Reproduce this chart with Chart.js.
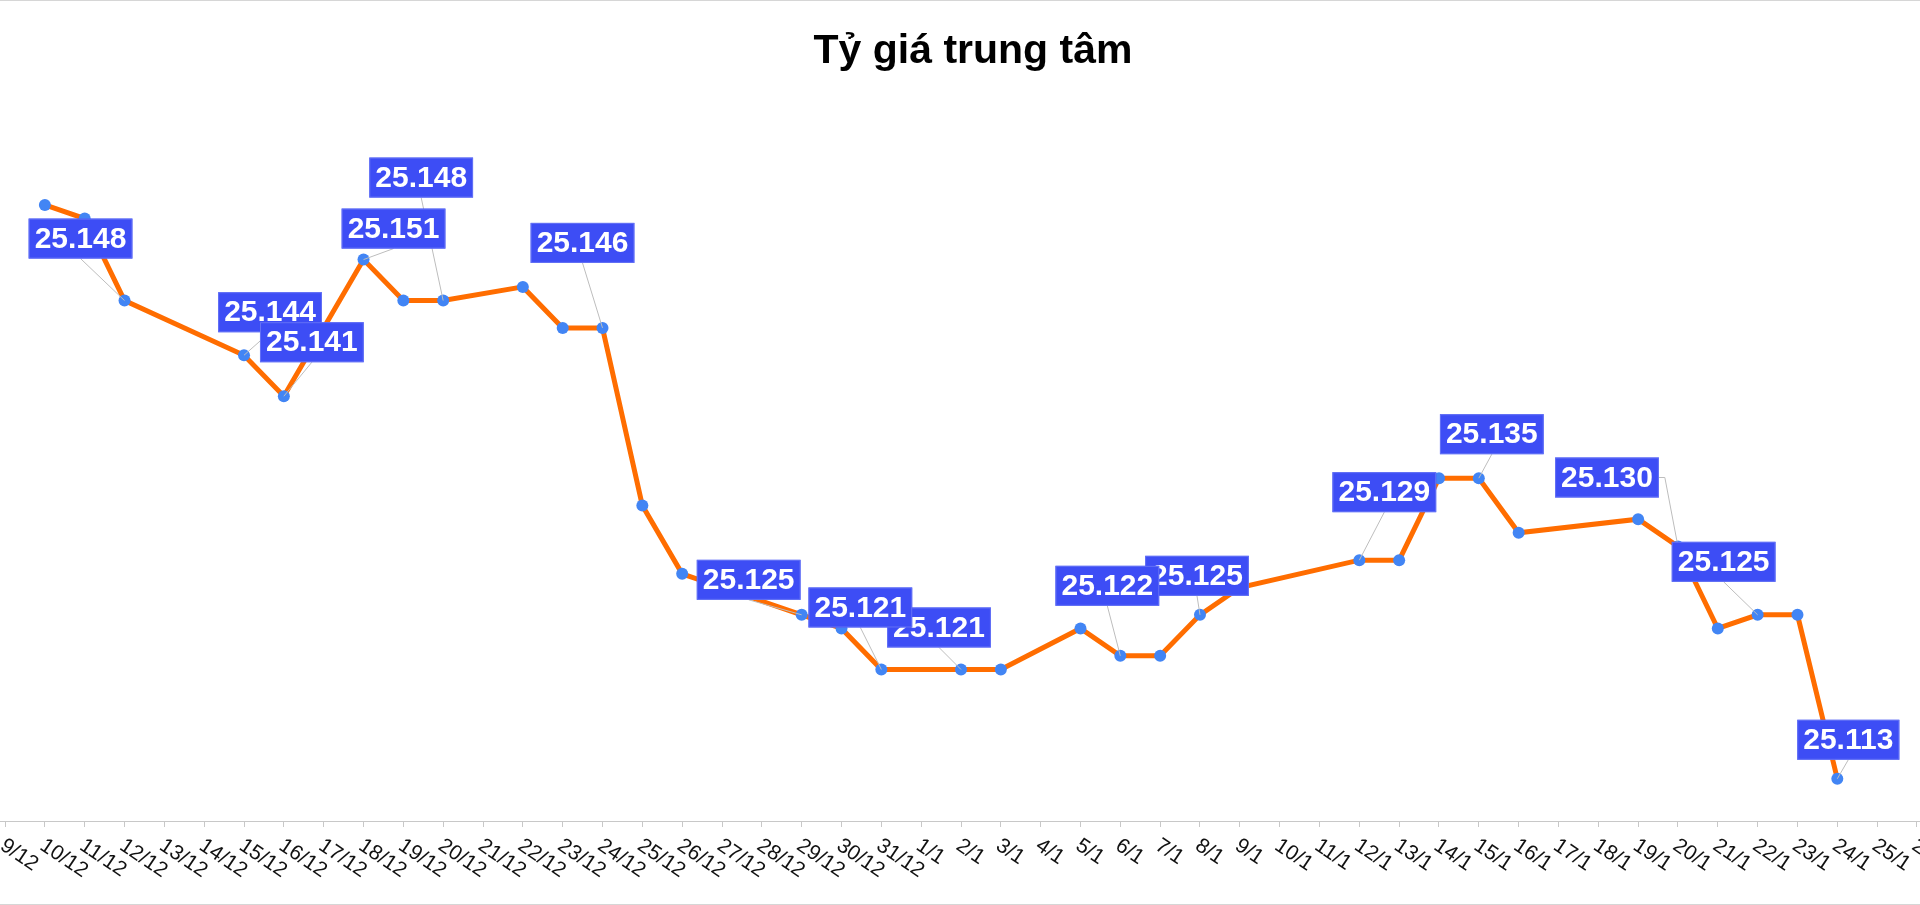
<!DOCTYPE html>
<html>
<head>
<meta charset="utf-8">
<title>Tỷ giá trung tâm</title>
<script src="https://cdn.jsdelivr.net/npm/chart.js@4.4.1/dist/chart.umd.min.js"></script>
<style>
  html, body { margin: 0; padding: 0; background: #fff; overflow: hidden; }
  #frame { position: relative; width: 1920px; height: 905px; overflow: hidden; }
  #chart { position: absolute; left: -60px; top: 0; }
  #frame-border {
    position: absolute; left: 0; top: 0; width: 1920px; height: 905px;
    box-sizing: border-box; border-top: 1px solid #d6d6d6; border-bottom: 1px solid #d6d6d6;
    pointer-events: none;
  }
</style>
</head>
<body>
<div id="frame">
  <canvas id="chart" width="2040" height="905"></canvas>
  <div id="frame-border"></div>
</div>
<script>
// Days on the axis (the first and last ones are cut off by the frame)
const dates = [
  "8/12", "9/12", "10/12", "11/12", "12/12", "13/12", "14/12", "15/12", "16/12", "17/12",
  "18/12", "19/12", "20/12", "21/12", "22/12", "23/12", "24/12", "25/12", "26/12", "27/12",
  "28/12", "29/12", "30/12", "31/12", "1/1", "2/1", "3/1", "4/1", "5/1", "6/1",
  "7/1", "8/1", "9/1", "10/1", "11/1", "12/1", "13/1", "14/1", "15/1", "16/1",
  "17/1", "18/1", "19/1", "20/1", "21/1", "22/1", "23/1", "24/1", "25/1", "26/1", "27/1"
];

// Central rate (thousand VND / USD), null = no fixing that day
const rates = [
  null, null, 25.155, 25.154, 25.148, null, null, 25.144, 25.141, null,
  25.151, 25.148, 25.148, null, 25.149, 25.146, 25.146, 25.133, 25.128, 25.127,
  null, 25.125, 25.124, 25.121, null, 25.121, 25.121, null, 25.124, 25.122,
  25.122, 25.125, 25.127, null, null, 25.129, 25.129, 25.135, 25.135, 25.131,
  null, null, 25.132, 25.130, 25.124, 25.125, 25.125, 25.113, null, null, null
];

// Days that carry a value box, in drawing order
const labelledDays = [
  "12/12", "15/12", "16/12", "18/12", "20/12", "24/12", "29/12",
  "2/1", "31/12", "8/1", "6/1", "12/1", "15/1", "20/1", "22/1", "24/1"
];

// Where each box sits, relative to its point
const boxOffsets = {
  "12/12": [-44, -62], "15/12": [26, -43], "16/12": [28, -54], "18/12": [30, -31],
  "20/12": [-22, -123], "24/12": [-20, -85], "29/12": [-53, -35], "31/12": [-21, -62],
  "2/1": [-22, -42], "6/1": [-13, -70], "8/1": [-3, -39], "12/1": [25, -68],
  "15/1": [13, -44], "20/1": [-71, -69], "22/1": [-34, -53], "24/1": [11, -39]
};

const FONT = '"Liberation Sans", Arial, sans-serif';

// Value boxes with thin leader lines
const valueBoxes = {
  id: 'valueBoxes',
  afterDatasetsDraw(chart) {
    const ctx = chart.ctx;
    const meta = chart.getDatasetMeta(0);
    ctx.save();
    ctx.font = 'bold 30px ' + FONT;

    const boxes = labelledDays.map(day => {
      const i = dates.indexOf(day);
      const pt = meta.data[i];
      const text = rates[i].toFixed(3);
      const w = ctx.measureText(text).width + 12;
      const h = 40;
      const cx = pt.x + boxOffsets[day][0];
      const cy = pt.y + boxOffsets[day][1];
      return { text, px: pt.x, py: pt.y, left: cx - w / 2, top: cy - h / 2, w, h };
    });

    ctx.strokeStyle = '#bdbdbd';
    ctx.lineWidth = 1;
    boxes.forEach(b => {
      ctx.beginPath();
      if (b.px > b.left + b.w + 4) {
        ctx.moveTo(b.left + b.w, b.top + b.h / 2);
        ctx.lineTo(b.left + b.w + 6, b.top + b.h / 2);
      } else if (b.px < b.left - 4) {
        ctx.moveTo(b.left, b.top + b.h / 2);
        ctx.lineTo(b.left - 6, b.top + b.h / 2);
      } else if (b.py > b.top + b.h) {
        ctx.moveTo(b.left + b.w / 2, b.top + b.h);
      } else {
        ctx.moveTo(b.left + b.w / 2, b.top);
      }
      ctx.lineTo(b.px, b.py);
      ctx.stroke();
    });

    ctx.textAlign = 'center';
    ctx.textBaseline = 'middle';
    boxes.forEach(b => {
      ctx.fillStyle = '#3d4df5';
      ctx.fillRect(b.left, b.top, b.w, b.h);
      ctx.strokeStyle = '#6472f6';
      ctx.strokeRect(b.left + 0.5, b.top + 0.5, b.w - 1, b.h - 1);
      ctx.fillStyle = '#ffffff';
      ctx.fillText(b.text, b.left + b.w / 2, b.top + b.h / 2 + 1);
    });
    ctx.restore();
  }
};

// Title and slanted day labels
const decorations = {
  id: 'decorations',
  afterDraw(chart) {
    const ctx = chart.ctx;
    const x = chart.scales.x;
    ctx.save();
    ctx.fillStyle = '#000';
    ctx.font = 'bold 41px ' + FONT;
    ctx.textAlign = 'center';
    ctx.textBaseline = 'alphabetic';
    ctx.fillText('Tỷ giá trung tâm', 1033, 63);

    ctx.font = '21px ' + FONT;
    ctx.fillStyle = '#111';
    ctx.textAlign = 'left';
    ctx.textBaseline = 'top';
    dates.forEach((d, i) => {
      ctx.save();
      ctx.translate(x.getPixelForTick(i) + 3, x.top + 14);
      ctx.rotate(34 * Math.PI / 180);
      ctx.fillText(d, 0, 0);
      ctx.restore();
    });
    ctx.restore();
  }
};

new Chart(document.getElementById('chart'), {
  type: 'line',
  data: {
    labels: dates,
    datasets: [{
      data: rates,
      borderColor: '#ff6d00',
      borderWidth: 5,
      pointBackgroundColor: '#4285f4',
      pointBorderWidth: 0,
      pointRadius: 6,
      spanGaps: true,
      tension: 0
    }]
  },
  options: {
    responsive: false,
    animation: false,
    layout: { padding: { left: 25.2, right: 23.2, top: 100, bottom: 78 } },
    plugins: {
      legend: { display: false },
      tooltip: { enabled: false },
      title: { display: false }
    },
    scales: {
      x: {
        offset: false,
        grid: { drawOnChartArea: false, drawTicks: true, tickLength: 6, color: '#c8c8c8' },
        border: { color: '#c8c8c8', width: 1 },
        ticks: { display: false, autoSkip: false }
      },
      y: { display: false, min: 25.10991, max: 25.16268 }
    }
  },
  plugins: [valueBoxes, decorations]
});
</script>
</body>
</html>
